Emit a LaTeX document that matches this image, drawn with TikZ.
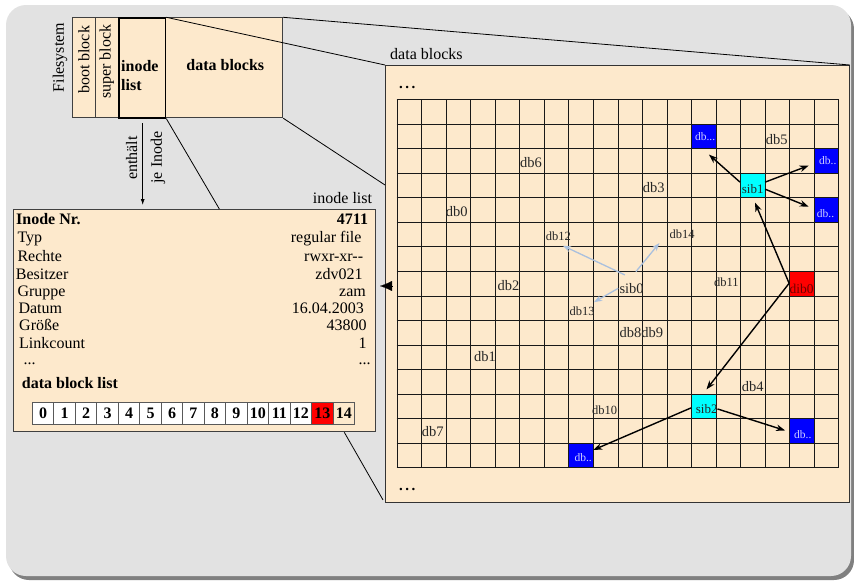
\documentclass[tikz,border=0pt]{standalone}
\usepackage{fontspec}
\setmainfont{Liberation Serif}
\usetikzlibrary{arrows.meta,calc}
\definecolor{bggray}{RGB}{226,226,226}
\definecolor{shgray}{RGB}{128,128,128}
\definecolor{beige}{RGB}{253,233,204}
\definecolor{lsblue}{RGB}{170,192,222}
\definecolor{dbtxt}{RGB}{205,205,255}
\definecolor{dibtxt}{RGB}{110,0,0}
\definecolor{gridc}{RGB}{25,25,25}
\definecolor{cyanc}{RGB}{0,255,255}
\definecolor{bluec}{RGB}{0,0,255}
\definecolor{redc}{RGB}{255,0,0}
\newcommand{\fsz}[1]{\fontsize{#1}{#1}\selectfont}
\tikzset{
  txt/.style={inner sep=0pt, font=\fsz{16}},
  btxt/.style={inner sep=0pt, font=\fsz{16}\bfseries},
  dbl/.style={inner sep=0pt, font=\fsz{14.5}, text=black!85, anchor=base west},
  dbs/.style={inner sep=0pt, font=\fsz{12.5}, text=black!85, anchor=base west},
  box/.style={draw=black!80, fill=beige, line width=0.9pt, inner sep=0pt, anchor=north west},
  fsbox/.style={draw=black!75, fill=beige, line width=0.9pt, inner sep=0pt, anchor=north west, minimum height=100pt},
  cellc/.style={minimum width=24.6pt, minimum height=24.6pt, inner sep=0pt},
  celltxt/.style={inner sep=0pt, font=\fsz{11.5}, text=dbtxt, anchor=west},
  gridline/.style={gridc, line width=1.4pt},
  blk/.style={-{Stealth[length=9pt,width=6.5pt]}, line width=1.4pt},
  bla/.style={lsblue, -{Stealth[length=8pt,width=6pt]}, line width=1.3pt},
  listc/.style={draw=black!65, line width=0.9pt, minimum width=21.47pt, minimum height=21.7pt, inner sep=0pt, anchor=north west, font=\fsz{16}\bfseries},
  link/.style={black, line width=0.8pt},
  tri/.style={-{Latex[length=12pt,width=10pt]}, line width=0.1pt}
}
\begin{document}
\begin{tikzpicture}[x=1pt,y=-1pt]
\useasboundingbox (0,0) rectangle (854,581);
\fill[shgray, rounded corners=20pt] (9,9) rectangle (854,580);
\fill[bggray, rounded corners=20pt] (6,5) rectangle (851,576);

% panels
\node[box, minimum width=464pt, minimum height=437pt] (dpanel) at (385,65) {};
\node[box, minimum width=362pt, minimum height=222pt, draw=black!75, line width=1.3pt] (inode) at (13,209) {};

% filesystem box
\node[fsbox, minimum width=22.7pt] (fsboot) at (72.3,17.3) {};
\node[fsbox, minimum width=23.3pt] (fssuper) at (95,17.3) {};
\node[fsbox, minimum width=117.3pt] (fsdata) at (165,17.3) {};
\node[fsbox, minimum width=46.7pt, draw=black, line width=1.3pt] (fsinode) at (118.3,17.3) {};
\node[txt, rotate=90] (tfs) at (60,57.5) {Filesystem};
\node[txt, rotate=90] (tboot) at (84,60) {boot block};
\node[txt, rotate=90] (tsuper) at (106.7,61.7) {super block};
\node[btxt, anchor=base west] (tinode1) at (121,71) {inode};
\node[btxt, anchor=base west] (tinode2) at (121,90) {list};
\node[btxt] (tdata) at (225.3,65) {data blocks};

% zoom lines
\draw[link] (fsinode.north east) -- (dpanel.north west);
\draw[link] (fsdata.north east) -- (dpanel.north east);
\draw[link] (fsdata.south east) -- ($(dpanel.north west)+(0,120)$);
\draw[link] (fsinode.south east) -- ($(inode.north)+(24.7,0)$);
\draw[link] ($(inode.south east)+(-32,0)$) -- ($(dpanel.south west)+(-2,-3)$);

% contains arrow
\coordinate (arrS) at (142.7,123);
\coordinate (arrE) at (142.7,205);
\draw[-{Latex[length=6pt,width=4pt]}, line width=0.8pt] (arrS) -- (arrE);
\node[txt, rotate=90] (tenth) at (131.7,158) {enthält};
\node[txt, rotate=90] (tje) at (158,157.5) {je Inode};

% labels
\node[txt, anchor=base west] (ldata) at (390,59) {data blocks};
\node[txt, anchor=base east] (linode) at (372.3,203) {inode list};

% coloured cells (fill only, grid drawn on top)
\node[cellc, fill=bluec] (dbA) at (703.45,136.1) {};
\node[cellc, fill=bluec] (dbB) at (826.15,160.63) {};
\node[cellc, fill=bluec] (dbC) at (826.15,209.69) {};
\node[cellc, fill=cyanc] (sib1) at (752.53,185.16) {};
\node[cellc, fill=redc] (dib0) at (801.61,283.28) {};
\node[cellc, fill=cyanc] (sib2) at (703.45,405.93) {};
\node[cellc, fill=bluec] (dbD) at (801.61,430.46) {};
\node[cellc, fill=bluec] (dbE) at (580.75,454.99) {};

% grid
\foreach \i in {0,...,18} \draw[gridline] ({round(396.7+24.54*\i)+0.5},99.5) -- ({round(396.7+24.54*\i)+0.5},467.5);
\foreach \j in {0,...,15} \draw[gridline] (396.5,{round(99.3+24.53*\j)+0.5}) -- (839,{round(99.3+24.53*\j)+0.5});

% cell texts
\node[celltxt] (tA) at (694.9,136.7) {db...};
\node[celltxt] (tB) at (819,161) {db..};
\node[celltxt] (tC) at (816.7,213.3) {db..};
\node[celltxt] (tD) at (794,434.3) {db..};
\node[celltxt] (tE) at (574.3,457.3) {db..};
\node[celltxt, font=\fsz{13}, text=black!85] (tsib1) at (741.7,189.3) {sib1};
\node[celltxt, font=\fsz{13.5}, text=dibtxt] (tdib0) at (789.3,289.3) {dib0};
\node[celltxt, font=\fsz{13}, text=black!85] (tsib2) at (695.7,409) {sib2};

% grid labels
\node[dbl] (db5) at (765.7,144.8) {db5};
\node[dbl] (db6) at (520,167.8) {db6};
\node[dbl] (db0) at (445.7,216.5) {db0};
\node[dbs] (db12) at (545.7,240.8) {db12};
\node[dbl] (db2) at (497.3,290.8) {db2};
\node[dbl] (db3) at (642.7,192.5) {db3};
\node[dbs] (db14) at (669.3,238.4) {db14};
\node[dbl] (sib0) at (619.3,293.3) {sib0};
\node[dbs] (db11) at (714,286.8) {db11};
\node[dbs] (db13) at (569.3,315.1) {db13};
\node[dbl] (db1) at (474,361.5) {db1};
\node[dbs] (db10) at (592,414.8) {db10};
\node[dbl] (db7) at (421.7,436.5) {db7};
\node[dbl] (db89) at (619.3,337.1) {db8db9};
\node[dbl] (db4) at (741.7,391.5) {db4};

% dots
\node[btxt, anchor=base west, font=\fsz{15}\bfseries] (dtop) at (399,88) {.\,.\,.};
\node[btxt, anchor=base west, font=\fsz{15}\bfseries] (dbot) at (399,490) {.\,.\,.};

% arrows
\draw[blk] ($(sib1.west)+(0,-3)$) -- ($(dbA.south east)+(-7,6)$);
\draw[blk] ($(sib1.east)+(0,-3)$) -- ($(dbB.west)+(-5,5)$);
\draw[blk] ($(sib1.east)+(0,4)$) -- ($(dbC.west)+(-5,-3)$);
\draw[blk] (dib0.west) -- ($(sib1.south)+(2.5,5)$);
\draw[blk] (dib0.west) -- ($(sib2.north)+(3,-4)$);
\draw[blk] ($(sib2.east)+(1.5,3)$) -- ($(dbD.west)+(-4,0)$);
\draw[blk] ($(sib2.west)+(0,2)$) -- ($(dbE.east)+(0,-5)$);
\draw[bla] ($(sib0.center)+(-6.7,-13.4)$) -- ($(db12.center)+(4.5,9.2)$);
\draw[bla] ($(sib0.center)+(4.3,-16.7)$) -- ($(db14.center)+(-22.7,9)$);
\draw[bla] ($(sib0.center)+(-13.4,0)$) -- ($(db13.center)+(12,-8.7)$);

% link arrow between panels
\coordinate (triA) at (392,286);
\coordinate (triB) at (380,286);
\draw[tri] (triA) -- (triB);

% inode panel text
\node[btxt, anchor=base west] (iNr) at (16,224.8) {Inode Nr.};
\node[btxt, anchor=base east] (vNr) at (368.3,224.8) {4711};
\node[txt, anchor=base west] (iTyp) at (17.3,242.8) {Typ};
\node[txt, anchor=base east] (vTyp) at (361.7,242.8) {regular file};
\node[txt, anchor=base west] (iRe) at (17.3,261.5) {Rechte};
\node[txt, anchor=base east] (vRe) at (363.3,261.5) {rwxr-xr-{}-};
\node[txt, anchor=base west] (iBe) at (15.7,279.5) {Besitzer};
\node[txt, anchor=base east] (vBe) at (362.7,279.5) {zdv021};
\node[txt, anchor=base west] (iGr) at (17.3,296.5) {Gruppe};
\node[txt, anchor=base east] (vGr) at (366,296.5) {zam};
\node[txt, anchor=base west] (iDa) at (18.3,313.2) {Datum};
\node[txt, anchor=base east] (vDa) at (364,313.2) {16.04.2003};
\node[txt, anchor=base west] (iGz) at (19,330.5) {Größe};
\node[txt, anchor=base east] (vGz) at (366.7,330.5) {43800};
\node[txt, anchor=base west] (iLc) at (19,348.2) {Linkcount};
\node[txt, anchor=base east] (vLc) at (366.7,348.2) {1};
\node[txt, anchor=base west] (iDots) at (23.3,364.5) {...};
\node[txt, anchor=base east] (vDots) at (370.7,364.5) {...};
\node[btxt, anchor=base west] (iDbl) at (21.7,388.8) {data block list};

% data block list
\foreach \k in {0,...,12} \node[listc, fill=white] (L\k) at ({32+21.47*\k},402.3) {\k};
\node[listc, fill=redc] (L13) at ({32+21.47*13},402.3) {13};
\node[listc, fill=beige] (L14) at ({32+21.47*14},402.3) {14};
\end{tikzpicture}
\end{document}
